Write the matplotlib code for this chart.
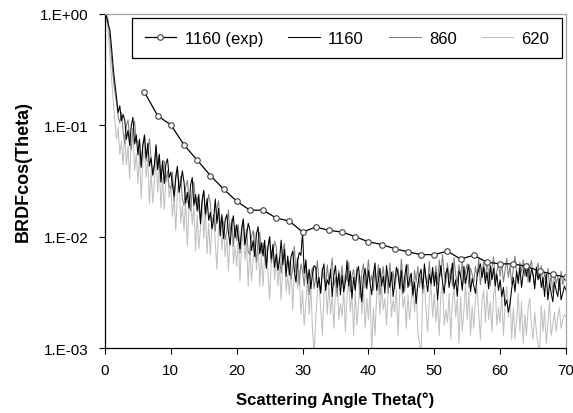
import numpy as np
import matplotlib

matplotlib.use("Agg")
import matplotlib.pyplot as plt
from matplotlib.ticker import FixedLocator, FuncFormatter

plt.rcParams["font.family"] = ["Liberation Sans", "DejaVu Sans"]

# measured BRDF*cos(theta), one point every 2 degrees
exp_angle = [6, 8, 10, 12, 14, 16, 18, 20, 22, 24, 26, 28, 30, 32, 34, 36, 38,
             40, 42, 44, 46, 48, 50, 52, 54, 56, 58, 60, 62, 64, 66, 68, 70]
exp_1160 = [0.198, 0.122, 0.101, 0.0668, 0.0487, 0.0354, 0.0268, 0.0208,
            0.0173, 0.0173, 0.0147, 0.0138, 0.0110, 0.0122, 0.0114, 0.0110,
            0.0100, 0.0090, 0.0085, 0.0078, 0.0073, 0.0069, 0.0069, 0.0074,
            0.0063, 0.0068, 0.0059, 0.0057, 0.0057, 0.0054, 0.0049, 0.0046,
            0.0043]

# simulated curves, sampled every 0.25 degree from 0 to 70
sim_1160 = [
    1.0, 0.93, 0.8, 0.72, 0.5, 0.33, 0.24, 0.18, 0.13, 0.15, 0.11, 0.125,
    0.112, 0.075, 0.09, 0.066, 0.1, 0.118, 0.068, 0.082,
    0.054, 0.075, 0.042, 0.066, 0.081, 0.051, 0.069, 0.043,
    0.051, 0.036, 0.044, 0.067, 0.04, 0.055, 0.031, 0.048,
    0.03, 0.045, 0.05, 0.034,
    0.038, 0.029, 0.023, 0.035, 0.043, 0.025, 0.03, 0.039,
    0.031, 0.02, 0.025, 0.018, 0.029, 0.034, 0.019, 0.024,
    0.017, 0.024, 0.013, 0.021, 0.026, 0.016, 0.022, 0.014,
    0.0165, 0.0117, 0.0143, 0.0218, 0.0132, 0.018, 0.0102, 0.0158,
    0.0096, 0.0142, 0.0158, 0.0108, 0.0084, 0.013, 0.0154, 0.0098,
    0.0128, 0.0097, 0.0078, 0.0118, 0.0145, 0.0084, 0.0103, 0.0132,
    0.0114, 0.0075, 0.0092, 0.0066, 0.0106, 0.0123, 0.007, 0.0088,
    0.0067, 0.0093, 0.0052, 0.0081, 0.01, 0.0063, 0.0085, 0.0053,
    0.007, 0.005, 0.0061, 0.0093, 0.0056, 0.0077, 0.0044, 0.0067,
    0.0045, 0.0066, 0.0074, 0.005, 0.0039, 0.006, 0.0072, 0.0068,
    0.011, 0.0047, 0.0062, 0.0038, 0.0051, 0.0034, 0.0046, 0.0055,
    0.0053, 0.0035, 0.0043, 0.0031, 0.0049, 0.0057, 0.0033, 0.0041,
    0.0037, 0.0051, 0.0029, 0.0045, 0.0055, 0.0035, 0.0047, 0.003,
    0.0045, 0.0032, 0.0039, 0.0061, 0.0036, 0.0049, 0.0028, 0.0043,
    0.0033, 0.0048, 0.0054, 0.0037, 0.0026, 0.0044, 0.0052, 0.0034,
    0.005, 0.0038, 0.003, 0.0046, 0.0058, 0.0033, 0.004, 0.0052,
    0.0036, 0.0044, 0.0031, 0.0055, 0.0042, 0.0035, 0.0048, 0.0029,
    0.0039, 0.0053, 0.0046, 0.0034, 0.005, 0.0031, 0.0043, 0.0056,
    0.0035, 0.0042, 0.0047, 0.003, 0.0039, 0.0025, 0.0037, 0.0045,
    0.0051, 0.0034, 0.0057, 0.0041, 0.0032, 0.0046, 0.0038, 0.0053,
    0.0036, 0.0048, 0.0027, 0.0043, 0.0055, 0.0039, 0.0031, 0.0047,
    0.0052, 0.0035, 0.0044, 0.0058, 0.0034, 0.0041, 0.0029, 0.0049,
    0.0045, 0.0033, 0.0054, 0.0038, 0.0047, 0.0056, 0.0032, 0.0042,
    0.0036, 0.0031, 0.0044, 0.0051, 0.0057, 0.0043, 0.0053, 0.0038,
    0.0048, 0.0034, 0.0055, 0.0041, 0.0052, 0.0036, 0.0046, 0.0033,
    0.0041, 0.0029, 0.0035, 0.0024, 0.0027, 0.0021, 0.0025, 0.0034,
    0.0043, 0.0032, 0.0049, 0.0038, 0.0053, 0.0035, 0.0047, 0.0055,
    0.0044, 0.0057, 0.0039, 0.0051, 0.0046, 0.0034, 0.0053, 0.0041,
    0.0048, 0.0035, 0.0043, 0.0029, 0.0046, 0.0027, 0.0038, 0.0031,
    0.0026, 0.0039, 0.0033, 0.0029, 0.0042, 0.0027, 0.0031, 0.0036,
    0.0033,
]
sim_860 = [
    1.0, 0.98, 0.88, 0.6, 0.4, 0.27, 0.2, 0.16, 0.12, 0.105, 0.13, 0.09,
    0.068, 0.1, 0.112, 0.077, 0.06, 0.092, 0.109, 0.07,
    0.073, 0.055, 0.044, 0.067, 0.083, 0.048, 0.059, 0.076,
    0.05, 0.035, 0.043, 0.065, 0.04, 0.054, 0.031, 0.047,
    0.048, 0.031, 0.039, 0.028,
    0.027, 0.038, 0.021, 0.033, 0.041, 0.026, 0.035, 0.022,
    0.019, 0.028, 0.032, 0.022, 0.017, 0.026, 0.031, 0.02,
    0.023, 0.0175, 0.014, 0.021, 0.026, 0.015, 0.0186, 0.024,
    0.0195, 0.0128, 0.0158, 0.0112, 0.018, 0.021, 0.012, 0.015,
    0.0132, 0.0094, 0.0114, 0.0174, 0.0106, 0.0144, 0.0082, 0.0126,
    0.0092, 0.0128, 0.0071, 0.0112, 0.0138, 0.0087, 0.0117, 0.0073,
    0.0069, 0.0101, 0.0114, 0.0077, 0.006, 0.0093, 0.011, 0.0071,
    0.0088, 0.0066, 0.0053, 0.0081, 0.0099, 0.0058, 0.0071, 0.0091,
    0.0081, 0.0053, 0.0065, 0.0047, 0.0074, 0.0087, 0.005, 0.0062,
    0.0059, 0.0042, 0.0051, 0.0082, 0.0048, 0.0065, 0.0037, 0.0057,
    0.0049, 0.0036, 0.0058, 0.0041, 0.003, 0.0045, 0.0053, 0.0034,
    0.0044, 0.0061, 0.0038, 0.0031, 0.0052, 0.0042, 0.0035, 0.0056,
    0.0039, 0.0047, 0.0064, 0.0036, 0.0043, 0.0029, 0.005, 0.0037,
    0.0055, 0.0034, 0.0046, 0.004, 0.0059, 0.0032, 0.0044, 0.0051,
    0.0036, 0.0053, 0.0041, 0.0028, 0.0048, 0.0057, 0.0035, 0.0043,
    0.0062, 0.0039, 0.0045, 0.0033, 0.0051, 0.0038, 0.0056, 0.003,
    0.0042, 0.0054, 0.0035, 0.0047, 0.0031, 0.0058, 0.004, 0.0049,
    0.0034, 0.0045, 0.0052, 0.0037, 0.0063, 0.0041, 0.0032, 0.0048,
    0.0057, 0.0036, 0.0044, 0.0029, 0.005, 0.0039, 0.0054, 0.0035,
    0.0046, 0.0031, 0.0053, 0.0043, 0.0038, 0.006, 0.0036, 0.0049,
    0.0041, 0.0055, 0.0037, 0.0062, 0.0044, 0.0069, 0.0047, 0.0038,
    0.0058, 0.0042, 0.0051, 0.0036, 0.0065, 0.0045, 0.0039, 0.0056,
    0.0043, 0.006, 0.0038, 0.0049, 0.0057, 0.0035, 0.0052, 0.0046,
    0.0039, 0.0054, 0.0044, 0.0063, 0.0037, 0.0048, 0.0059, 0.0042,
    0.0061, 0.0045, 0.0036, 0.0053, 0.0066, 0.0041, 0.0049, 0.0057,
    0.0044, 0.0058, 0.0039, 0.005, 0.0064, 0.0043, 0.0055, 0.0037,
    0.0052, 0.0067, 0.0046, 0.0041, 0.0059, 0.0048, 0.0062, 0.0044,
    0.0057, 0.0039, 0.0053, 0.0061, 0.0045, 0.0036, 0.005, 0.0058,
    0.0042, 0.0055, 0.0034, 0.0048, 0.0039, 0.0052, 0.0036, 0.0045,
    0.0031, 0.0047, 0.0038, 0.0044, 0.0033, 0.0049, 0.0037, 0.0042,
    0.0044,
]
sim_620 = [
    1.0, 0.9, 0.68, 0.42, 0.26, 0.17, 0.11, 0.075, 0.095, 0.055, 0.072, 0.044,
    0.083, 0.044, 0.066, 0.033, 0.074, 0.094, 0.039, 0.055,
    0.03, 0.056, 0.022, 0.046, 0.064, 0.034, 0.05, 0.02,
    0.04, 0.02, 0.031, 0.054, 0.025, 0.045, 0.018, 0.034,
    0.0175, 0.0325, 0.039, 0.0225,
    0.0285, 0.0152, 0.0228, 0.0114, 0.0257, 0.0323, 0.0133, 0.019,
    0.0113, 0.021, 0.0083, 0.0173, 0.024, 0.0128, 0.0188, 0.0075,
    0.0156, 0.0078, 0.012, 0.021, 0.0096, 0.0174, 0.007, 0.0132,
    0.0069, 0.0127, 0.0152, 0.0088, 0.0051, 0.0118, 0.0147, 0.0076,
    0.0123, 0.0066, 0.0098, 0.0049, 0.0111, 0.0139, 0.0057, 0.0082,
    0.0054, 0.0101, 0.004, 0.0083, 0.0115, 0.0061, 0.009, 0.0036,
    0.0081, 0.004, 0.0062, 0.0109, 0.005, 0.009, 0.0036, 0.0068,
    0.0036, 0.0068, 0.0081, 0.0047, 0.0027, 0.0062, 0.0078, 0.0041,
    0.0068, 0.0036, 0.0054, 0.0027, 0.0061, 0.0077, 0.0032, 0.0045,
    0.003, 0.0056, 0.0022, 0.0046, 0.0064, 0.0034, 0.005, 0.002,
    0.0033, 0.0016, 0.0025, 0.0044, 0.002, 0.0036, 0.0015, 0.0009,
    0.0018, 0.0033, 0.0039, 0.0023, 0.0013, 0.003, 0.0038, 0.002,
    0.0038, 0.002, 0.003, 0.0015, 0.0034, 0.0043, 0.0018, 0.0025,
    0.0019, 0.0035, 0.0014, 0.0029, 0.004, 0.0021, 0.0031, 0.0013,
    0.0033, 0.0016, 0.0025, 0.0044, 0.002, 0.0036, 0.0015, 0.0028,
    0.0018, 0.0033, 0.0009, 0.0023, 0.0013, 0.003, 0.0038, 0.002,
    0.0036, 0.0022, 0.0028, 0.0016, 0.0032, 0.0045, 0.0019, 0.0027,
    0.0021, 0.0034, 0.0013, 0.0031, 0.0041, 0.0023, 0.0029, 0.0015,
    0.003, 0.0018, 0.0026, 0.0039, 0.0021, 0.0034, 0.0014, 0.0011,
    0.0009, 0.0032, 0.0037, 0.0022, 0.0014, 0.0028, 0.0036, 0.0019,
    0.0031, 0.0017, 0.0027, 0.0013, 0.003, 0.0038, 0.0016, 0.0022,
    0.0017, 0.0031, 0.0012, 0.0026, 0.0035, 0.0019, 0.0028, 0.0011,
    0.0029, 0.0014, 0.0022, 0.0038, 0.0018, 0.0032, 0.0013, 0.0024,
    0.0015, 0.0028, 0.0034, 0.002, 0.0012, 0.0027, 0.0033, 0.0017,
    0.0033, 0.0018, 0.0026, 0.0014, 0.003, 0.0037, 0.0016, 0.0023,
    0.0017, 0.0031, 0.0013, 0.0025, 0.0036, 0.0019, 0.0028, 0.0012,
    0.0023, 0.0012, 0.0018, 0.0031, 0.0014, 0.0026, 0.0011, 0.002,
    0.0013, 0.0023, 0.0028, 0.0016, 0.0012, 0.0021, 0.0014, 0.0011,
    0.0009, 0.0024, 0.0014, 0.0022, 0.0011, 0.0017, 0.0026, 0.0013,
    0.0016, 0.0021, 0.0014, 0.0019, 0.0023, 0.0015, 0.0018, 0.002,
    0.0019,
]


def sim_angle(values):
    return np.linspace(0, 70, len(values))


fig = plt.figure(figsize=(5.73, 4.14), dpi=100)
ax = fig.add_axes([0.1832, 0.157, 0.8046, 0.8068])

ax.plot(sim_angle(sim_620), sim_620, color="#c0c0c0", lw=0.75, label="620")
ax.plot(sim_angle(sim_860), sim_860, color="#808080", lw=0.75, label="860")
ax.plot(sim_angle(sim_1160), sim_1160, color="black", lw=0.75, label="1160")
ax.plot(exp_angle, exp_1160, color="black", lw=0.9, marker="o", ms=4,
        mfc="white", mec="#404040", mew=0.8, label="1160 (exp)")

ax.set_yscale("log")
ax.set_xlim(0, 70)
ax.set_ylim(1e-3, 1)
ax.xaxis.set_major_locator(FixedLocator([0, 10, 20, 30, 40, 50, 60, 70]))
ax.yaxis.set_major_locator(FixedLocator([1e-3, 1e-2, 1e-1, 1]))
ax.yaxis.set_minor_locator(FixedLocator([]))
ax.yaxis.set_major_formatter(FuncFormatter(lambda v, pos: f"{v:#.0E}"))
ax.tick_params(axis="both", direction="out", length=4, width=0.8,
               labelsize=11, color="black")
ax.tick_params(axis="x", pad=7)
ax.tick_params(axis="y", pad=8)

for side in ("left", "bottom"):
    ax.spines[side].set_color("black")
    ax.spines[side].set_linewidth(0.9)
for side in ("top", "right"):
    ax.spines[side].set_color("#a0a0a0")
    ax.spines[side].set_linewidth(0.9)

ax.set_xlabel("Scattering Angle Theta(\u00b0)", fontsize=12, fontweight="bold")
ax.set_ylabel("BRDFcos(Theta)", fontsize=13, fontweight="bold")
ax.xaxis.set_label_coords(0.5, -0.13)
ax.yaxis.set_label_coords(-0.158, 0.53)

handles, labels = ax.get_legend_handles_labels()
order = [3, 2, 1, 0]
leg = ax.legend([handles[i] for i in order], [labels[i] for i in order],
                ncol=4, loc="upper right", bbox_to_anchor=(0.9808, 0.9541),
                bbox_transform=fig.transFigure, borderaxespad=0,
                fontsize=12, handlelength=1.9, handletextpad=0.5,
                columnspacing=1.5, borderpad=0.75, fancybox=False,
                framealpha=1, edgecolor="black")
leg.get_frame().set_linewidth(0.9)

fig.savefig("out.png", dpi=100)
